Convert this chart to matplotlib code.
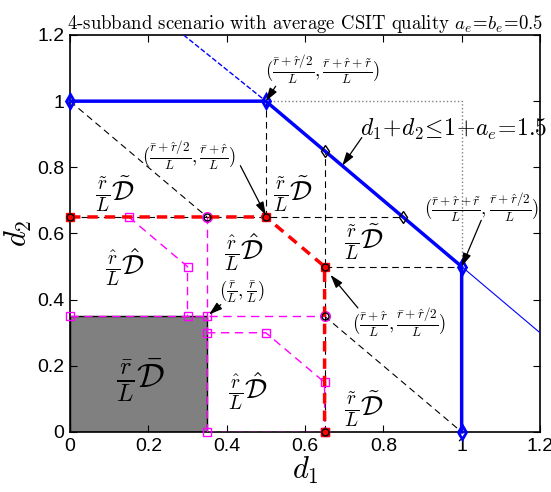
import matplotlib
matplotlib.use('Agg')
import matplotlib.pyplot as plt
from matplotlib.patches import Rectangle

plt.rcParams['mathtext.fontset'] = 'cm'
plt.rcParams['font.family'] = 'Liberation Sans'

# outer region (blue)
blue_x = [0, 0.5, 1, 1]
blue_y = [1, 1, 0.5, 0]
blue_ext_x = [0.29, 0.5]
blue_ext_y = [1.2, 1.0]
blue_tail_x = [1, 1.2]
blue_tail_y = [0.5, 0.3]
dot_x = [0.5, 1, 1]
dot_y = [1, 1, 0.5]

# inner region (red)
red_x = [0, 0.5, 0.65, 0.65]
red_y = [0.65, 0.65, 0.5, 0]

# black dashed helper lines
blk_lines = [
    ([0, 0.35], [1, 0.65]),
    ([0.65, 1], [0.35, 0]),
    ([0, 0.85], [0.65, 0.65]),
    ([0.65, 0.65], [0, 0.85]),
    ([0.5, 0.5], [0.65, 1]),
    ([0.65, 1], [0.5, 0.5]),
]
blk_circ_x = [0, 0.35, 0.5, 0.65, 0.65, 0.65]
blk_circ_y = [0.65, 0.65, 0.65, 0.5, 0.35, 0]
blk_diam_x = [0.65, 0.85]
blk_diam_y = [0.85, 0.65]

# magenta sub-regions
mag_lines = [
    ([0, 0.65], [0.35, 0.35]),
    ([0.35, 0.35], [0, 0.65]),
    ([0.35, 0.65], [0, 0]),
    ([0.15, 0.3, 0.3], [0.65, 0.5, 0.35]),
    ([0.35, 0.5, 0.65, 0.65], [0.3, 0.3, 0.15, 0]),
]
mag_sq_x = [0, 0.3, 0.35, 0.35, 0.5, 0.65, 0.35, 0.65, 0.15, 0.3]
mag_sq_y = [0.35, 0.35, 0.35, 0.3, 0.3, 0.15, 0, 0, 0.65, 0.5]
mag_circ_x = [0.35, 0.65]
mag_circ_y = [0.65, 0.35]

# corner (common) region
gray_w = 0.35
gray_h = 0.35

D_tl = r'$\frac{\tilde{r}}{L}\tilde{\mathcal{D}}$'
D_hat = r'$\frac{\hat{r}}{L}\hat{\mathcal{D}}$'
D_bar = r'$\frac{\bar{r}}{L}\bar{\mathcal{D}}$'
region_labels = [
    (0.115, 0.72, D_tl, 20), (0.57, 0.72, D_tl, 20),
    (0.14, 0.50, D_hat, 20), (0.445, 0.545, D_hat, 20),
    (0.75, 0.575, D_tl, 20), (0.18, 0.155, D_bar, 25),
    (0.455, 0.125, D_hat, 20), (0.75, 0.07, D_tl, 20),
]

# annotations: text pos, arrow tail, arrow tip
ann = [
    (0.645, 1.095, r'$(\frac{\bar{r}+\hat{r}/2}{L},\frac{\bar{r}+\hat{r}+\tilde{r}}{L})$', (0.525, 1.045), (0.5, 1.0), 13.5),
    (0.98, 0.915, r'$d_1\!+\!d_2\!\leq\!1\!+\!a_e\!=\!1.5$', (0.745, 0.89), (0.695, 0.805), 17),
    (1.05, 0.68, r'$(\frac{\bar{r}+\hat{r}+\tilde{r}}{L},\frac{\bar{r}+\hat{r}/2}{L})$', (1.05, 0.64), (1.0, 0.5), 13.5),
    (0.305, 0.835, r'$(\frac{\bar{r}+\hat{r}/2}{L},\frac{\bar{r}+\hat{r}}{L})$', (0.435, 0.805), (0.5, 0.655), 13.5),
    (0.44, 0.425, r'$(\frac{\bar{r}}{L},\frac{\bar{r}}{L})$', (0.385, 0.385), (0.355, 0.355), 13.5),
    (0.84, 0.33, r'$(\frac{\bar{r}+\hat{r}}{L},\frac{\bar{r}+\hat{r}/2}{L})$', (0.735, 0.375), (0.665, 0.475), 13.5),
]

fig = plt.figure(figsize=(5.51, 4.92), dpi=100)
ax = fig.add_axes([70/551, 60/492, 470/551, 397/492])

ax.add_patch(Rectangle((0, 0), gray_w, gray_h, facecolor='#808080', edgecolor='k', lw=1, zorder=1))

for xs, ys in blk_lines:
    ax.plot(xs, ys, '--', color='k', lw=0.8, dashes=(6, 4), zorder=2)
for xs, ys in mag_lines:
    ax.plot(xs, ys, '--', color='#ff00ff', lw=1.0, dashes=(6, 4), zorder=3)
ax.plot(mag_sq_x, mag_sq_y, 's', ms=6, mfc='none', mec='#ff00ff', mew=1.0, zorder=4, clip_on=False)
ax.plot(mag_circ_x, mag_circ_y, 'o', ms=7, mfc='none', mec='#ff00ff', mew=1.0, zorder=4)

ax.plot(dot_x, dot_y, ':', color='gray', lw=1, zorder=2)
ax.plot(blue_ext_x, blue_ext_y, '--', color='b', lw=1, zorder=3)
ax.plot(blue_tail_x, blue_tail_y, '-', color='b', lw=0.8, zorder=3)
ax.plot(blue_x, blue_y, '-', color='b', lw=2.5, marker='d', ms=7, mfc='none', mew=2, zorder=5, clip_on=False)

ax.plot(red_x, red_y, '--', color='r', lw=2.5, dashes=(3, 2), marker='s', ms=6, mfc='r', mec='r', zorder=5, clip_on=False)
ax.plot(blk_circ_x, blk_circ_y, 'o', ms=5, mfc='none', mec='k', mew=1, zorder=6, clip_on=False)
ax.plot(blk_diam_x, blk_diam_y, 'd', ms=6, mfc='none', mec='k', mew=1, zorder=6)

for x, y, s, fs in region_labels:
    ax.text(x, y, s, fontsize=fs, ha='center', va='center', zorder=7)

for tx, ty, s, tail, tip, fs in ann:
    ax.text(tx, ty, s, fontsize=fs, ha='center', va='center', zorder=7)
    ax.annotate('', xy=tip, xytext=tail, zorder=7,
                arrowprops=dict(arrowstyle='-|>,head_length=0.8,head_width=0.25',
                                color='k', lw=0.9, shrinkA=0, shrinkB=0))

ax.set_xlim(0, 1.2)
ax.set_ylim(0, 1.2)
ticks = [0, 0.2, 0.4, 0.6, 0.8, 1, 1.2]
tick_labels = ['0', '0.2', '0.4', '0.6', '0.8', '1', '1.2']
ax.set_xticks(ticks)
ax.set_xticklabels(tick_labels)
ax.set_yticks(ticks)
ax.set_yticklabels(tick_labels)
ax.tick_params(direction='in', top=True, right=True, labelsize=14, length=5, pad=4)
for sp in ax.spines.values():
    sp.set_linewidth(1.2)

ax.set_xlabel(r'$d_1$', fontsize=22, labelpad=0)
ax.set_ylabel(r'$d_2$', fontsize=22, labelpad=2)
ax.set_title(r'4-subband scenario with average CSIT quality $a_e\!=\!b_e\!=\!0.5$',
             fontsize=13.5, family='cmr10', pad=4)

fig.savefig('out.png', dpi=100)
